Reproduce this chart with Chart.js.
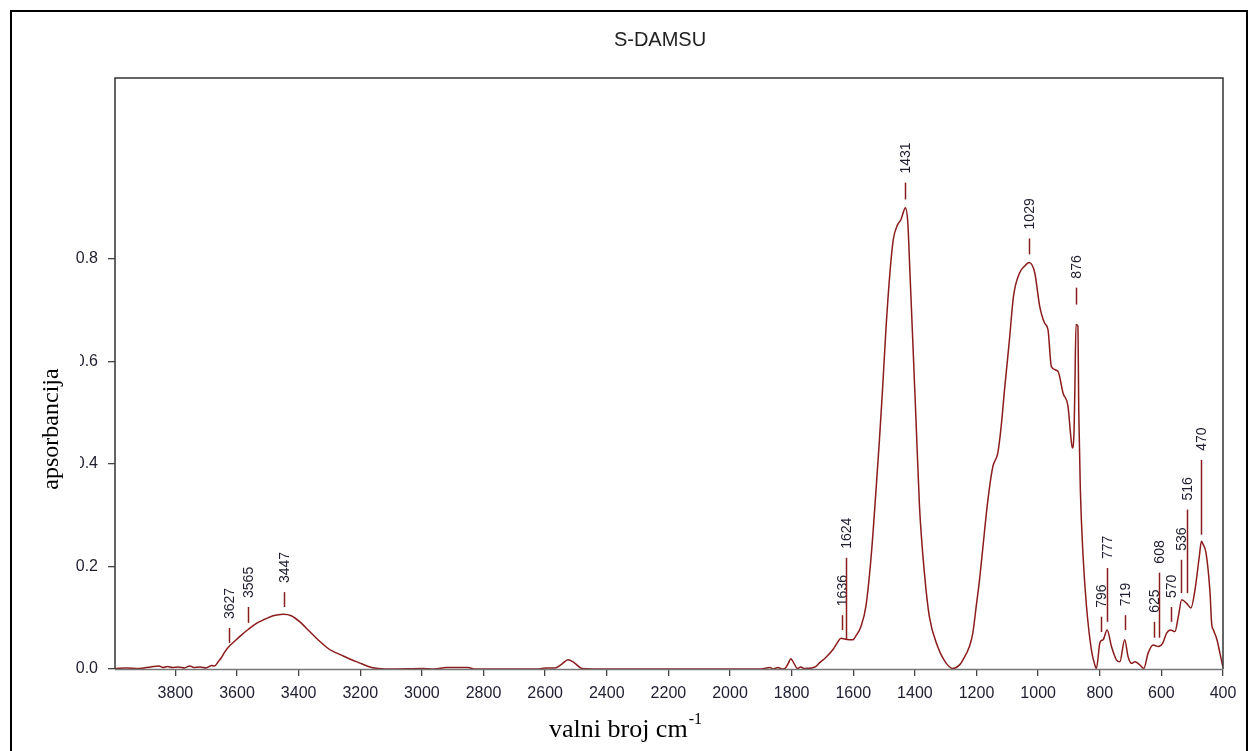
<!DOCTYPE html>
<html>
<head>
<meta charset="utf-8">
<script src="https://cdn.jsdelivr.net/npm/chart.js@4.4.0/dist/chart.umd.min.js"></script>
<style>
  body { margin:0; background:#fff; }
  #wrap { width:1250px; height:751px; }
</style>
</head>
<body>
<div id="wrap"><canvas id="canvas" width="1250" height="751"></canvas></div>
<script>
// spectrum (wavenumber cm-1 / absorbance)
var wavenumbers = [3996,3960,3920,3880,3854,3840,3825,3810,3790,3770,3754,3740,3720,3700,3682,
  3673,3660,3651,3640,3629,3608,3586,3564,3537,3510,3483,3450,3424,3396,3364,3337,3304,3293,3261,3228,3207,3163,3140,
  3100,3000,2960,2920,2850,2830,2620,2600,2567,2545,2526,2505,2480,2400,2000,1900,1870,1860,1845,1830,1820,1810,1803,1795,1781,1770,1760,1735,
  1721,1710,1690,1667,1651,1640,1625,1602,1590,1575,1559,1542,1526,1515,1505,1494,1481,1470,1456,1445,1438,1431,1423,1416,1407,1396,1385,1369,1353,1326,1298,1277,
  1255,1244,1223,1212,1201,1190,1179,1163,1147,1131,1120,1109,1093,1080,1060,1044,1029,1011,995,979,968,957,936,919,903,894,889,884,881,877,871,868,863,854,843,827,816,811,
  800,796,789,776,762,746,735,719,708,697,686,670,657,643,627,617,610,596,583,570,556,545,534,518,504,491,477,470,466,455,442,437,431,420,410,400];
var absorbance = [0.001,0.002,0.001,0.004,0.006,0.003,0.005,0.003,0.004,0.002,0.006,0.003,0.004,0.002,0.007,
  0.006,0.015,0.022,0.033,0.042,0.054,0.066,0.077,0.089,0.097,0.104,0.107,0.104,0.092,0.073,0.057,0.040,0.036,0.027,0.018,0.013,0.003,0.001,
  0.000,0.001,0.000,0.003,0.003,0.000,0.000,0.002,0.002,0.010,0.018,0.012,0.001,0.000,0.000,0.000,0.003,0.000,0.003,0.000,0.002,0.012,0.020,0.014,0.001,0.004,0.001,0.002,
  0.005,0.012,0.022,0.037,0.052,0.060,0.058,0.057,0.066,0.083,0.122,0.219,0.350,0.447,0.545,0.662,0.773,0.838,0.867,0.877,0.890,0.900,0.871,0.773,0.643,0.480,0.317,0.187,0.102,0.044,0.011,0.001,
  0.008,0.018,0.044,0.070,0.122,0.175,0.239,0.330,0.395,0.421,0.473,0.545,0.643,0.727,0.773,0.786,0.793,0.773,0.708,0.675,0.662,0.590,0.581,0.538,0.512,0.454,0.431,0.454,0.538,0.672,0.669,0.499,0.350,0.219,0.122,0.037,0.008,0.001,
  0.050,0.055,0.057,0.076,0.044,0.018,0.014,0.057,0.024,0.011,0.014,0.008,0.001,0.031,0.047,0.045,0.044,0.050,0.070,0.076,0.073,0.102,0.135,0.128,0.119,0.154,0.219,0.249,0.245,0.226,0.148,0.090,0.076,0.058,0.031,0.003];

var xTicks = [3800,3600,3400,3200,3000,2800,2600,2400,2200,2000,1800,1600,1400,1200,1000,800,600,400];
var yTicks = [0.0,0.2,0.4,0.6,0.8];

// peak markers: wavenumber, top and bottom of the marker line (absorbance units)
var peakWaves  = [3627,3565,3447,1636,1624,1431,1029,876,796,777,719,625,608,570,536,516,470];
var peakTop    = [0.080,0.121,0.150,0.105,0.217,0.949,0.840,0.744,0.102,0.197,0.105,0.092,0.188,0.121,0.213,0.311,0.408];
var peakBottom = [0.051,0.090,0.121,0.076,0.057,0.916,0.809,0.711,0.072,0.092,0.076,0.061,0.061,0.092,0.148,0.148,0.262];

var lineColor = "#8b1c1c";
var sans = "'Liberation Sans', Arial, sans-serif";
var serif = "'Liberation Serif', 'Times New Roman', serif";

var points = [];
for (let i = 0; i < wavenumbers.length; i++) {
    points.push({x: wavenumbers[i], y: absorbance[i]});
}

var peakLabels = {
    id: "peakLabels",
    afterDatasetsDraw(chart) {
        let ctx = chart.ctx;
        let xs = chart.scales.x, ys = chart.scales.y;
        ctx.save();
        ctx.strokeStyle = lineColor;
        ctx.lineWidth = 1.5;
        ctx.fillStyle = "#1e1e30";
        ctx.font = "14px " + sans;
        for (let i = 0; i < peakWaves.length; i++) {
            let x = Math.round(xs.getPixelForValue(peakWaves[i])) + 0.5;
            let y1 = ys.getPixelForValue(peakTop[i]);
            let y2 = ys.getPixelForValue(peakBottom[i]);
            ctx.beginPath();
            ctx.moveTo(x, y1);
            ctx.lineTo(x, y2);
            ctx.stroke();
            ctx.save();
            ctx.translate(x + 1, y1 - 9);
            ctx.rotate(-Math.PI / 2);
            ctx.textAlign = "left";
            ctx.textBaseline = "middle";
            ctx.fillText(String(peakWaves[i]), 0, 0);
            ctx.restore();
        }
        ctx.restore();
    }
};

var frame = {
    id: "frame",
    afterDraw(chart) {
        let ctx = chart.ctx;
        let a = chart.chartArea;
        ctx.save();
        // outer border
        ctx.strokeStyle = "#000";
        ctx.lineWidth = 2;
        ctx.strokeRect(11, 11, 1236, 780);
        // plot frame
        ctx.lineWidth = 1.5;
        ctx.strokeStyle = "#333";
        ctx.beginPath();
        ctx.moveTo(a.left, a.bottom);
        ctx.lineTo(a.left, a.top);
        ctx.lineTo(a.right, a.top);
        ctx.lineTo(a.right, a.bottom);
        ctx.stroke();
        ctx.strokeStyle = "#777";
        ctx.beginPath();
        ctx.moveTo(a.left, a.bottom + 0.5);
        ctx.lineTo(a.right, a.bottom + 0.5);
        ctx.stroke();

        // the axis title box hides the front of some y labels
        ctx.fillStyle = "#fff";
        ctx.fillRect(36, 340, 44, 150);

        // title
        ctx.fillStyle = "#222";
        ctx.font = "20px " + sans;
        ctx.textAlign = "center";
        ctx.textBaseline = "middle";
        ctx.fillText("S-DAMSU", 660, 40);

        // y title
        ctx.save();
        ctx.translate(52, 429);
        ctx.rotate(-Math.PI / 2);
        ctx.fillStyle = "#000";
        ctx.font = "24px " + serif;
        ctx.fillText("apsorbancija", 0, 0);
        ctx.restore();

        // x title with superscript
        ctx.fillStyle = "#000";
        ctx.textAlign = "left";
        ctx.textBaseline = "alphabetic";
        ctx.font = "26px " + serif;
        let main = "valni broj cm";
        let w = ctx.measureText(main).width;
        let x0 = 549;
        ctx.fillText(main, x0, 737);
        ctx.font = "16px " + serif;
        ctx.fillText("-1", x0 + w + 1, 724);
        ctx.restore();
    }
};

var ctx = document.getElementById("canvas").getContext("2d");
var myChart = new Chart(ctx, {
    type: "line",
    data: {
        datasets: [{
            label: "S-DAMSU",
            data: points,
            borderColor: lineColor,
            borderWidth: 1.5,
            pointRadius: 0,
            fill: false,
            cubicInterpolationMode: "monotone"
        }]
    },
    options: {
        responsive: false,
        animation: false,
        layout: { padding: { top: 78, right: 27, left: 0, bottom: 0 } },
        plugins: {
            legend: { display: false },
            tooltip: { enabled: false },
            title: { display: false }
        },
        scales: {
            x: {
                type: "linear",
                reverse: true,
                min: 400,
                max: 3996,
                afterBuildTicks: function(scale) {
                    scale.ticks = xTicks.map(v => ({value: v}));
                },
                afterFit: function(scale) { scale.height = 82; },
                ticks: {
                    font: { family: sans, size: 16 },
                    color: "#1e1e30",
                    padding: 8,
                    maxRotation: 0,
                    autoSkip: false,
                    callback: v => String(v)
                },
                grid: { drawOnChartArea: false, tickLength: 7, color: "#444", lineWidth: 1.3 },
                border: { display: false }
            },
            y: {
                min: 0,
                max: 1.153,
                afterBuildTicks: function(scale) {
                    scale.ticks = yTicks.map(v => ({value: v}));
                },
                afterFit: function(scale) { scale.width = 115; },
                ticks: {
                    font: { family: sans, size: 16 },
                    color: "#1e1e30",
                    padding: 10,
                    callback: v => Number(v).toFixed(1)
                },
                grid: { drawOnChartArea: false, tickLength: 7, color: "#444", lineWidth: 1.3 },
                border: { display: false }
            }
        }
    },
    plugins: [peakLabels, frame]
});
</script>
</body>
</html>
